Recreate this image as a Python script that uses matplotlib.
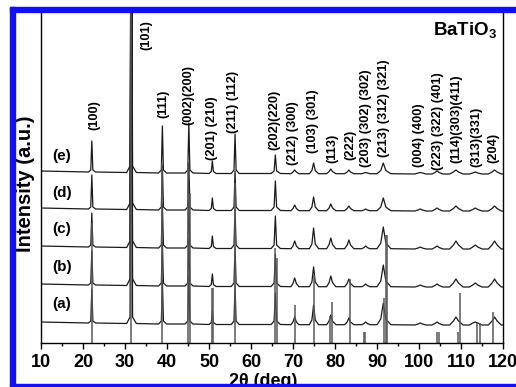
import matplotlib.pyplot as plt
from matplotlib.patches import Rectangle

plt.rcParams['font.family'] = ['Liberation Sans', 'DejaVu Sans']
plt.rcParams['font.weight'] = 'bold'
plt.rcParams['mathtext.fontset'] = 'custom'
plt.rcParams['mathtext.bf'] = 'Liberation Sans:bold'
plt.rcParams['mathtext.rm'] = 'Liberation Sans:bold'

# ---- data ----
# shared 2theta vertices (foot, shoulder, apex, shoulder, foot per peak)
two_theta = [10.0,
             21.3, 21.85, 22.1, 22.35, 23.0,
             30.4, 31.2, 31.5, 31.8, 32.7,
             38.0, 38.65, 38.9, 39.15, 39.9,
             44.3, 44.95, 45.2, 45.45, 46.2,
             50.0, 50.55, 50.8, 51.05, 51.7,
             55.3, 55.95, 56.2, 56.45, 57.2,
             64.8, 65.5, 65.8, 66.1, 67.0,
             69.5, 70.0, 70.4, 70.8, 71.4,
             73.9, 74.5, 74.9, 75.3, 76.1,
             78.0, 78.6, 79.0, 79.4, 80.2,
             82.3, 82.9, 83.3, 83.7, 84.5,
             86.4, 86.9, 87.3, 87.7, 88.3,
             90.0, 90.9, 91.5, 92.1, 93.3,
             99.0, 99.8, 100.3, 100.8, 101.7,
             103.1, 103.8, 104.3, 104.8, 105.7,
             107.3, 108.2, 108.8, 109.4, 110.5,
             112.0, 112.8, 113.4, 114.0, 115.0,
             116.5, 117.4, 118.0, 118.6, 119.6,
             120.0]

int_a = [3,
         2, 4, 36, 4, 2,
         1.5, 8, 400, 8, 1.5,
         1, 4, 45, 4, 1,
         1, 4, 48, 4, 1,
         0.5, 2.5, 14, 2.5, 0.5,
         0.5, 4, 40, 4, 0.5,
         0.5, 4, 32, 4, 0.5,
         0.3, 3, 8, 3, 0.3,
         0.3, 5, 20, 5, 0.3,
         0.3, 4, 10, 4, 0.3,
         0.3, 3, 7, 3, 0.3,
         0.3, 1.5, 3, 1.5, 0.3,
         0.3, 6, 22, 6, 0.3,
         0, 1, 2, 1, 0,
         0, 1.5, 3, 1.5, 0,
         0, 4, 8, 4, 0,
         0, 2, 3, 2, 0,
         0, 4, 8, 4, 0,
         0]

int_b = [3,
         2, 4, 36, 4, 2,
         1.5, 8, 400, 8, 1.5,
         1, 4, 45, 4, 1,
         1, 4, 48, 4, 1,
         0.5, 2.5, 13, 2.5, 0.5,
         0.5, 4, 40, 4, 0.5,
         0.5, 4, 33, 4, 0.5,
         0.3, 3.5, 9, 3.5, 0.3,
         0.3, 5, 20, 5, 0.3,
         0.3, 4.5, 11, 4.5, 0.3,
         0.3, 3.5, 8, 3.5, 0.3,
         0.3, 1.5, 3, 1.5, 0.3,
         0.3, 6, 22, 6, 0.3,
         0, 1, 2, 1, 0,
         0, 1.5, 3, 1.5, 0,
         0, 4, 8, 4, 0,
         0, 2, 4, 2, 0,
         0, 4, 8, 4, 0,
         0]

int_c = [3,
         2, 4, 36, 4, 2,
         1.5, 8, 400, 8, 1.5,
         1, 4, 45, 4, 1,
         1, 4, 48, 4, 1,
         0.5, 2.5, 13, 2.5, 0.5,
         0.5, 4, 40, 4, 0.5,
         0.5, 4, 33, 4, 0.5,
         0.3, 3, 8, 3, 0.3,
         0.3, 5, 21, 5, 0.3,
         0.3, 4.5, 11, 4.5, 0.3,
         0.3, 4, 9, 4, 0.3,
         0.3, 1.5, 3, 1.5, 0.3,
         0.3, 6, 22, 6, 0.3,
         0, 1, 2, 1, 0,
         0, 1.5, 3, 1.5, 0,
         0, 4, 8, 4, 0,
         0, 2, 4, 2, 0,
         0, 4, 8, 4, 0,
         0]

int_d = [3,
         2, 4, 36, 4, 2,
         1.5, 8, 400, 8, 1.5,
         1, 4, 45, 4, 1,
         1, 4, 48, 4, 1,
         0.5, 2.5, 13, 2.5, 0.5,
         0.5, 4, 40, 4, 0.5,
         0.5, 4, 30, 4, 0.5,
         0.3, 2.5, 6, 2.5, 0.3,
         0.3, 4, 14, 4, 0.3,
         0.3, 3, 7, 3, 0.3,
         0.3, 2.5, 5, 2.5, 0.3,
         0.3, 1, 2, 1, 0.3,
         0.3, 4, 13, 4, 0.3,
         0, 1, 2, 1, 0,
         0, 1.5, 3, 1.5, 0,
         0, 2.5, 5, 2.5, 0,
         0, 1.5, 3, 1.5, 0,
         0, 2.5, 5, 2.5, 0,
         0]

int_e = [3,
         2, 4, 33, 4, 2,
         1.5, 8, 400, 8, 1.5,
         1, 4, 48, 4, 1,
         1, 4, 51, 4, 1,
         0.5, 2.5, 13, 2.5, 0.5,
         0.5, 4, 40, 4, 0.5,
         0.5, 3, 19, 3, 0.5,
         0.3, 2, 4, 2, 0.3,
         0.3, 3.5, 11, 3.5, 0.3,
         0.3, 2.5, 5, 2.5, 0.3,
         0.3, 2, 4, 2, 0.3,
         0.3, 1, 1.5, 1, 0.3,
         0.3, 3.5, 11, 3.5, 0.3,
         0, 1, 1.5, 1, 0,
         0, 1.5, 3, 1.5, 0,
         0, 2, 4, 2, 0,
         0, 1, 2, 1, 0,
         0, 2, 4, 2, 0,
         0]

patterns = [int_a, int_b, int_c, int_d, int_e]
pattern_names = ['(a)', '(b)', '(c)', '(d)', '(e)']

# reference stick pattern
stick_pos = [22.1, 31.5, 38.9, 45.0, 45.4, 50.7, 51.0, 56.2, 65.8, 66.1,
             70.5, 75.1, 78.8, 79.4, 83.6, 87.0, 87.2, 91.6, 92.1, 92.3,
             104.4, 104.7, 109.2, 109.8, 113.7, 114.5, 117.7]
stick_h = [120, 331, 180, 180, 150, 55, 55, 160, 95, 85,
           38, 68, 27, 41, 64, 11, 11, 45, 108, 108,
           11, 11, 11, 50, 20, 20, 31]

hkl_labels = ['(100)', '(101)', '(111)', '(002)(200)', '(201) (210)', '(211) (112)',
              '(202)(220)', '(212) (300)', '(103) (301)', '(113)', '(222)',
              '(203) (302) (302)', '(213) (312) (321)', '(004) (400)',
              '(223) (322) (401)', '(114)(303)(411)', '(313)(331)', '(204)']
hkl_pos = [22.6, 35.2, 39.05, 45.2, 50.7, 55.7, 65.5, 70.0, 74.8, 79.3, 83.6,
           87.4, 91.7, 100.0, 104.5, 108.8, 113.6, 117.6]

# ---- layout ----
offsets = [18, 56, 94, 132, 169]
name_y = [39, 76, 114, 150, 187]
hkl_bottom = [213, 293, 225, 218, 183, 210, 193, 178, 190, 180, 183,
              176, 186, 176, 173, 180, 176, 180]

fig = plt.figure(figsize=(5.16, 3.87), dpi=100)
ax = fig.add_axes([41/516, 1-343/387, 462/516, 331/387])

for ints, off in zip(patterns, offsets):
    ax.plot(two_theta, [v + off for v in ints], color='0.1', lw=0.9)

ax.vlines(stick_pos, 0, stick_h, color='0.35', lw=1.1)

for lab, x, yb in zip(hkl_labels, hkl_pos, hkl_bottom):
    ax.text(x, yb, lab, rotation=90, ha='center', va='bottom',
            fontsize=9.3, fontweight='bold')

for name, y in zip(pattern_names, name_y):
    ax.text(15.0, y, name, ha='center', va='center', fontsize=11, fontweight='bold')

ax.text(0.987, 0.976, r'$\mathbf{BaTiO_3}$', transform=ax.transAxes,
        ha='right', va='top', fontsize=13.5)

ax.set_xlim(10, 120)
ax.set_ylim(0, 331)
ax.set_xticks(range(10, 121, 10))
ax.set_xticks(range(15, 120, 10), minor=True)
ax.set_yticks([])
ax.tick_params(axis='x', which='major', direction='out', length=4, width=1,
               pad=4, labelsize=13)
ax.tick_params(axis='x', which='minor', direction='out', length=2.5, width=1)
for t in ax.get_xticklabels():
    t.set_fontweight('bold')
ax.spines['top'].set_visible(False)
for s in ['left', 'right', 'bottom']:
    ax.spines[s].set_linewidth(1)

ax.set_ylabel('Intensity (a.u.)', fontsize=14.5, fontweight='bold', va='center')
ax.yaxis.set_label_coords(-0.0335, 0.482)
ax.set_xlabel('2θ (deg)', fontsize=13, fontweight='bold', va='top')
ax.xaxis.set_label_coords(0.4805, -0.09)

# blue frame
blue = '#1010f0'
fig.add_artist(Rectangle((10/516, 1-12/387), 506/516, 5/387, transform=fig.transFigure,
                         color=blue, zorder=5))
fig.add_artist(Rectangle((10/516, 1-386/387), 5/516, 379/387, transform=fig.transFigure,
                         color=blue, zorder=5))
fig.add_artist(Rectangle((10/516, 1-386/387), 506/516, 2/387, transform=fig.transFigure,
                         color=blue, zorder=5))

fig.savefig('out.png', dpi=100)
